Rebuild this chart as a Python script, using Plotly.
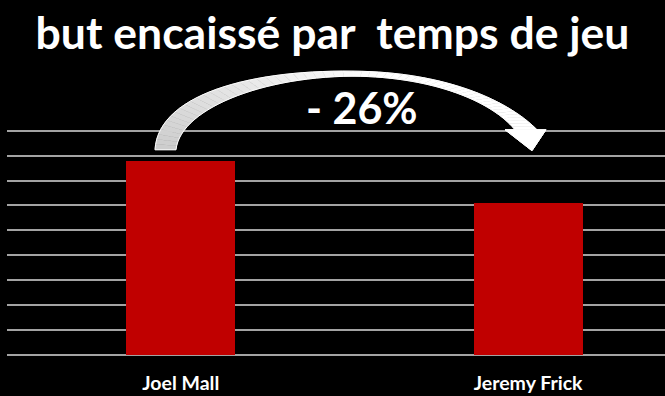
import plotly.graph_objects as go

# ---------------- data ----------------
categories = ["Joel Mall", "Jeremy Frick"]
values = [7.8, 6.1]
title_text = "but encaissé par\u00a0\u00a0temps de jeu"
change_label = "- 26%"

# ---------------- layout geometry ----------------
W, H = 665, 396
YMAX = 9.15
ML, MR, MB = 7, 0, 41
PH = (355 - 131) * YMAX / 9
MT = H - MB - PH
PW = W - ML - MR


def to_paper(px, py):
    return (px - ML) / PW, (H - MB - py) / PH


def bez(p0, p1, p2, p3, n):
    pts = []
    for i in range(n + 1):
        t = i / n
        a, b, c, d = (1 - t) ** 3, 3 * (1 - t) ** 2 * t, 3 * (1 - t) * t ** 2, t ** 3
        pts.append((a * p0[0] + b * p1[0] + c * p2[0] + d * p3[0],
                    a * p0[1] + b * p1[1] + c * p2[1] + d * p3[1]))
    return pts


N = 30
outer = bez((155, 150), (158, 95), (250, 70), (353, 71.5), N) + \
    bez((353, 71.5), (440, 72), (505, 98), (537, 130), N)[1:]
inner = bez((176, 150), (180, 110), (260, 77), (353, 76.5), N) + \
    bez((353, 76.5), (430, 77), (490, 100), (515, 130), N)[1:]
head = [(505, 130), (546, 130), (532, 151)]

shapes = []
M = len(outer) - 1
for i in range(M):
    t = i / M
    g = int(round(205 + (255 - 205) * min(1.0, t / 0.55)))
    col = f"rgb({g},{g},{g})"
    quad = [outer[i], outer[i + 1], inner[i + 1], inner[i]]
    pp = [to_paper(*p) for p in quad]
    path = "M " + " L ".join(f"{x:.5f},{y:.5f}" for x, y in pp) + " Z"
    shapes.append(dict(type="path", xref="paper", yref="paper", path=path,
                       fillcolor=col, line=dict(color=col, width=0.6), layer="above"))

# outline
outline_pts = outer + [head[1], head[2], head[0]] + inner[::-1]
pp = [to_paper(*p) for p in outline_pts]
path = "M " + " L ".join(f"{x:.5f},{y:.5f}" for x, y in pp) + " Z"
shapes.append(dict(type="path", xref="paper", yref="paper", path=path,
                   fillcolor="rgba(0,0,0,0)", line=dict(color="white", width=1), layer="above"))
# head
pp = [to_paper(*p) for p in head]
path = "M " + " L ".join(f"{x:.5f},{y:.5f}" for x, y in pp) + " Z"
shapes.append(dict(type="path", xref="paper", yref="paper", path=path,
                   fillcolor="white", line=dict(color="white", width=1), layer="above"))

lx, ly = to_paper(361.5, 108)

fig = go.Figure()
fig.add_trace(go.Bar(
    x=categories, y=values, width=0.314,
    marker=dict(color="#C00000", line=dict(width=0)),
    hoverinfo="skip",
))

fig.update_layout(
    width=W, height=H,
    margin=dict(l=ML, r=MR, t=MT, b=MB),
    paper_bgcolor="black", plot_bgcolor="black",
    showlegend=False,
    title=dict(text=title_text, x=0.5, xanchor="center", y=1 - 33 / H, yanchor="middle",
               yref="container",
               font=dict(family="Lato", size=44.5, color="white", weight="bold")),
    xaxis=dict(range=[-0.5, 1.394], showgrid=False, zeroline=False, showline=False,
               ticks="", ticklabelstandoff=14,
               tickfont=dict(family="Lato", size=19.5, color="white", weight="bold")),
    yaxis=dict(range=[0, YMAX], dtick=1, showgrid=True, gridcolor="#a3a3a3", gridwidth=1.8,
               zeroline=True, zerolinecolor="#a3a3a3", zerolinewidth=1.8,
               showticklabels=False, ticks="", showline=False),
    shapes=shapes,
    annotations=[dict(text=change_label, x=lx, y=ly, xref="paper", yref="paper",
                      showarrow=False, xanchor="center", yanchor="middle",
                      font=dict(family="Lato", size=43, color="white", weight="bold"))],
    bargap=0,
)

fig.write_html("out.html")
